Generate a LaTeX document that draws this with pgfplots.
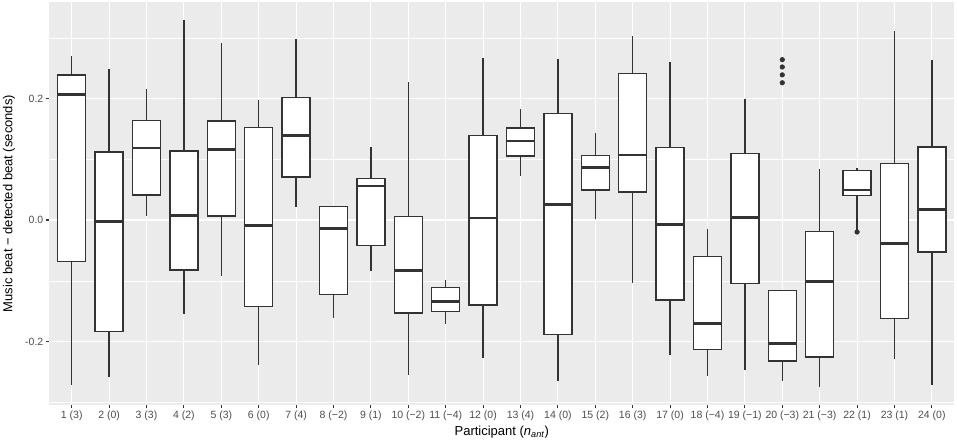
\documentclass[border=0pt]{standalone}
\usepackage{fontspec}
\setmainfont{Liberation Sans}
\usepackage{pgfplots}
\pgfplotsset{compat=1.18}
\usepgfplotslibrary{statistics}
\definecolor{ggbg}{HTML}{EBEBEB}
\definecolor{ggdark}{HTML}{333333}
\definecolor{ggtick}{HTML}{4D4D4D}
\begin{document}
\begin{tikzpicture}
\begin{axis}[
  scale only axis,
  width=905bp, height=403bp,
  xmin=0.4, xmax=24.6,
  ymin=-0.3045, ymax=0.359,
  axis background/.style={fill=ggbg},
  axis line style={draw=none},
  xtick={1,...,24},
  xticklabels={1 (3), 2 (0), 3 (3), 4 (2), 5 (3), 6 (0), 7 (4), 8 (−2), 9 (1), 10 (−2), 11 (−4), 12 (0), 13 (4), 14 (0), 15 (2), 16 (3), 17 (0), 18 (−4), 19 (−1), 20 (−3), 21 (−3), 22 (1), 23 (1), 24 (0)},
  ytick={-0.2,0,0.2},
  yticklabels={-0.2,0.0,0.2},
  minor ytick={-0.3,-0.1,0.1,0.3},
  grid=both,
  major grid style={white, line width=1.1bp},
  minor grid style={white, line width=0.55bp},
  tick pos=left,
  tick align=outside,
  major tick length=3.3bp,
  minor tick length=0pt,
  every tick/.style={ggdark, line width=1.1bp},
  tick label style={color=ggtick, font=\fontsize{10.5bp}{12bp}\selectfont},
  xticklabel style={inner sep=0pt, yshift=-2.5bp},
  yticklabel style={inner sep=0pt, xshift=-2.5bp},
  every axis y label/.style={at={(axis description cs:0,0.5)}, anchor=center, xshift=-40.3bp, rotate=90},
  every axis x label/.style={at={(axis description cs:0.5,0)}, anchor=center, yshift=-27.5bp},
  label style={font=\fontsize{13bp}{15bp}\selectfont, color=black},
  xlabel={Participant (\textit{n}\textsubscript{\textit{ant}})},
  ylabel={Music beat − detected beat (seconds)},
  boxplot/draw direction=y,
  boxplot/box extend=0.75,
  boxplot/whisker extend=0,
  boxplot/every box/.style={draw=ggdark, fill=white, line width=1.4bp},
  boxplot/every whisker/.style={draw=ggdark, line width=1.4bp},
  boxplot/every median/.style={draw=ggdark, line width=2.6bp},
  bx/.style={draw=ggdark, fill=white, line width=1.4bp, solid, mark=*, mark size=2.3bp, mark options={fill=ggdark, draw=ggdark, line width=0.5bp, solid}},
]
\addplot[bx, boxplot prepared={draw position=1, lower whisker=-0.272, lower quartile=-0.068, median=0.207, upper quartile=0.239, upper whisker=0.270}] coordinates {};
\addplot[bx, boxplot prepared={draw position=2, lower whisker=-0.258, lower quartile=-0.183, median=-0.002, upper quartile=0.112, upper whisker=0.249}] coordinates {};
\addplot[bx, boxplot prepared={draw position=3, lower whisker=0.006, lower quartile=0.041, median=0.1185, upper quartile=0.164, upper whisker=0.215}] coordinates {};
\addplot[bx, boxplot prepared={draw position=4, lower whisker=-0.154, lower quartile=-0.082, median=0.0077, upper quartile=0.1136, upper whisker=0.329}] coordinates {};
\addplot[bx, boxplot prepared={draw position=5, lower whisker=-0.092, lower quartile=0.0066, median=0.116, upper quartile=0.163, upper whisker=0.291}] coordinates {};
\addplot[bx, boxplot prepared={draw position=6, lower whisker=-0.239, lower quartile=-0.142, median=-0.009, upper quartile=0.152, upper whisker=0.1975}] coordinates {};
\addplot[bx, boxplot prepared={draw position=7, lower whisker=0.021, lower quartile=0.071, median=0.139, upper quartile=0.202, upper whisker=0.2986}] coordinates {};
\addplot[bx, boxplot prepared={draw position=8, lower whisker=-0.162, lower quartile=-0.123, median=-0.014, upper quartile=0.022, upper whisker=0.023}] coordinates {};
\addplot[bx, boxplot prepared={draw position=9, lower whisker=-0.084, lower quartile=-0.042, median=0.056, upper quartile=0.0686, upper whisker=0.120}] coordinates {};
\addplot[bx, boxplot prepared={draw position=10, lower whisker=-0.2546, lower quartile=-0.153, median=-0.083, upper quartile=0.0056, upper whisker=0.227}] coordinates {};
\addplot[bx, boxplot prepared={draw position=11, lower whisker=-0.171, lower quartile=-0.151, median=-0.134, upper quartile=-0.111, upper whisker=-0.0988}] coordinates {};
\addplot[bx, boxplot prepared={draw position=12, lower whisker=-0.2277, lower quartile=-0.140, median=0.0033, upper quartile=0.139, upper whisker=0.2667}] coordinates {};
\addplot[bx, boxplot prepared={draw position=13, lower whisker=0.0724, lower quartile=0.1054, median=0.130, upper quartile=0.1514, upper whisker=0.183}] coordinates {};
\addplot[bx, boxplot prepared={draw position=14, lower whisker=-0.2644, lower quartile=-0.1887, median=0.0258, upper quartile=0.175, upper whisker=0.2657}] coordinates {};
\addplot[bx, boxplot prepared={draw position=15, lower whisker=0.0023, lower quartile=0.0494, median=0.0868, upper quartile=0.106, upper whisker=0.1439}] coordinates {};
\addplot[bx, boxplot prepared={draw position=16, lower whisker=-0.103, lower quartile=0.046, median=0.107, upper quartile=0.241, upper whisker=0.303}] coordinates {};
\addplot[bx, boxplot prepared={draw position=17, lower whisker=-0.2216, lower quartile=-0.1317, median=-0.007, upper quartile=0.1197, upper whisker=0.261}] coordinates {};
\addplot[bx, boxplot prepared={draw position=18, lower whisker=-0.2568, lower quartile=-0.2128, median=-0.1706, upper quartile=-0.0603, upper whisker=-0.0153}] coordinates {};
\addplot[bx, boxplot prepared={draw position=19, lower whisker=-0.2474, lower quartile=-0.104, median=0.0044, upper quartile=0.1098, upper whisker=0.1998}] coordinates {};
\addplot[bx, boxplot prepared={draw position=20, lower whisker=-0.2655, lower quartile=-0.232, median=-0.2035, upper quartile=-0.1157, upper whisker=-0.1157}] coordinates {(0,0.264) (0,0.252) (0,0.239) (0,0.226)};
\addplot[bx, boxplot prepared={draw position=21, lower whisker=-0.2743, lower quartile=-0.2255, median=-0.1014, upper quartile=-0.019, upper whisker=0.0846}] coordinates {};
\addplot[bx, boxplot prepared={draw position=22, lower whisker=-0.017, lower quartile=0.0407, median=0.0494, upper quartile=0.0818, upper whisker=0.0856}] coordinates {(0,-0.0197)};
\addplot[bx, boxplot prepared={draw position=23, lower whisker=-0.228, lower quartile=-0.1623, median=-0.0389, upper quartile=0.0933, upper whisker=0.3106}] coordinates {};
\addplot[bx, boxplot prepared={draw position=24, lower whisker=-0.272, lower quartile=-0.0527, median=0.0171, upper quartile=0.1202, upper whisker=0.2634}] coordinates {};
\end{axis}
\pgfresetboundingbox
\path (-49.3bp,-39bp) rectangle (907.7bp,405bp);
\end{tikzpicture}
\end{document}
